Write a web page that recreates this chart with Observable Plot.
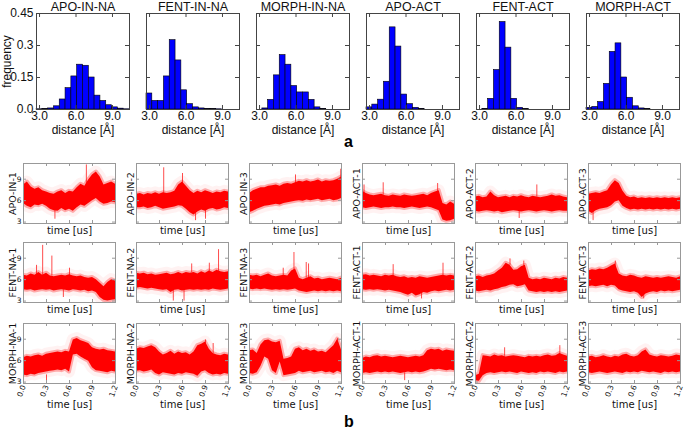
<!DOCTYPE html>
<html><head><meta charset="utf-8">
<script src="https://cdn.jsdelivr.net/npm/d3@7"></script>
<script src="https://cdn.jsdelivr.net/npm/@observablehq/plot@0.6"></script>
<style>
body{margin:0;background:#fff;}
#chart{position:relative;width:685px;height:430px;overflow:hidden;background:#fff;font-family:"Liberation Sans",Arial,sans-serif;}
#chart svg{position:absolute;overflow:visible;}
.tag{position:absolute;font-weight:bold;font-size:16px;line-height:16px;font-family:"Liberation Sans",Arial,sans-serif;}
</style></head><body><div id="chart"></div>
<script>
// ---------- data: histograms (frequency per distance bin) ----------
const histNames = ["APO-IN-NA","FENT-IN-NA","MORPH-IN-NA","APO-ACT","FENT-ACT","MORPH-ACT"];
const binEdges = [2.75,3.228,3.706,4.184,4.662,5.14,5.618,6.096,6.574,7.052,7.53,8.008,8.486,8.964,9.442,9.92,10.4];
const freqApoInNa   = [0.001,0.002,0.005,0.015,0.047,0.10,0.155,0.21,0.205,0.15,0.065,0.04,0.02,0.01,0.004,0.001];
const freqFentInNa  = [0.075,0.04,0.04,0.155,0.325,0.23,0.09,0.025,0.01,0.005,0.003,0.002,0.001,0,0,0];
const freqMorphInNa = [0,0.005,0.045,0.16,0.255,0.21,0.11,0.08,0.08,0.045,0.01,0.003,0,0,0,0];
const freqApoAct    = [0.01,0.023,0.046,0.13,0.385,0.295,0.07,0.025,0.008,0.003,0,0,0,0,0,0];
const freqFentAct   = [0,0.003,0.05,0.185,0.41,0.29,0.05,0.008,0.002,0,0,0,0,0,0,0];
const freqMorphAct  = [0.008,0.012,0.035,0.12,0.27,0.31,0.15,0.055,0.015,0.005,0.002,0,0,0,0,0];
const histFreq = [freqApoInNa,freqFentInNa,freqMorphInNa,freqApoAct,freqFentAct,freqMorphAct];
const histXTicks = [3,6,9];
const histXTickLabels = ["3.0","6.0","9.0"];
const histYTicks = [0,0.15,0.3,0.45];
const histYTickLabels = ["0.0","0.15","0.3","0.45"];

// ---------- data: time series (dense band low/high per time sample, in Å) ----------
const tsNames = ["APO-IN-1","APO-IN-2","APO-IN-3","APO-ACT-1","APO-ACT-2","APO-ACT-3",
                 "FENT-NA-1","FENT-NA-2","FENT-NA-3","FENT-ACT-1","FENT-ACT-2","FENT-ACT-3",
                 "MORPH-NA-1","MORPH-NA-2","MORPH-NA-3","MORPH-ACT-1","MORPH-ACT-2","MORPH-ACT-3"];
const times = [0,0.05,0.1,0.15,0.2,0.25,0.3,0.35,0.4,0.45,0.5,0.55,0.6,0.65,0.7,0.75,0.8,0.85,0.9,0.95,1.0,1.05,1.1,1.15,1.2];
const tsLo = [
 [5.6,5.2,5.0,5.4,5.3,5.5,5.2,4.8,4.6,4.5,4.9,4.6,4.8,4.5,5.0,5.4,5.2,5.6,6.0,6.3,5.8,5.5,5.6,5.8,5.7],
 [5.0,5.0,5.1,4.9,5.0,5.2,5.0,4.8,4.9,5.0,5.1,5.3,5.2,4.8,4.3,4.0,4.4,4.7,4.5,4.8,4.9,4.7,4.8,5.0,4.9],
 [4.3,4.5,4.8,5.0,5.2,5.3,5.4,5.5,5.4,5.6,5.7,5.8,5.9,6.0,5.9,6.1,6.0,6.1,6.2,6.0,6.1,6.2,6.0,6.1,6.3],
 [5.0,4.9,5.0,5.1,5.0,4.9,5.0,5.0,5.1,5.0,5.0,4.9,5.0,5.1,5.0,4.9,5.0,5.1,5.0,4.8,4.6,3.3,3.1,3.2,3.4],
 [4.5,4.4,4.5,4.6,4.5,4.4,4.5,4.3,4.4,4.5,4.6,4.5,4.4,4.5,4.6,4.5,4.4,4.5,4.6,4.5,4.4,4.5,4.6,4.5,4.5],
 [4.5,4.2,4.6,4.8,4.9,5.0,5.3,5.8,6.0,5.2,4.9,4.7,4.8,4.7,4.8,4.7,4.8,4.7,4.8,4.7,4.8,4.7,4.8,4.7,4.8],
 [4.6,4.5,4.6,4.4,4.5,4.6,4.5,4.6,4.4,4.5,4.6,4.5,4.4,4.6,4.5,4.4,4.5,4.3,4.4,4.2,3.5,3.1,3.0,3.1,3.2],
 [4.8,4.9,4.8,4.7,4.8,4.7,4.6,4.5,4.6,4.2,4.5,4.6,4.4,4.5,4.6,4.5,4.6,4.5,4.6,4.5,4.7,4.6,4.5,4.6,4.7],
 [4.7,4.6,4.7,4.6,4.7,4.6,4.5,4.6,4.5,4.6,4.5,4.6,4.7,4.4,4.3,4.2,4.3,4.4,4.3,4.4,4.3,4.4,4.3,4.4,4.3],
 [4.6,4.5,4.6,4.5,4.6,4.5,4.4,4.5,4.4,4.3,4.2,4.0,3.8,4.1,3.7,3.9,4.2,4.1,4.3,4.4,4.3,4.4,4.5,4.4,4.5],
 [4.4,4.3,4.4,4.5,4.4,4.6,4.7,4.9,5.0,5.2,5.3,5.0,5.1,5.3,4.4,4.3,4.2,4.3,4.2,4.3,4.2,4.3,4.2,4.3,4.4],
 [5.0,5.1,5.0,5.1,5.2,5.0,5.2,5.1,4.6,4.4,4.3,4.2,4.3,4.1,3.5,4.0,4.2,4.3,4.2,4.4,4.3,4.4,4.3,4.4,4.5],
 [4.0,3.9,4.1,4.0,4.2,4.3,4.4,4.5,4.6,4.7,4.6,4.8,4.4,6.8,6.9,6.5,6.2,5.9,5.0,4.6,4.5,4.4,4.3,4.5,4.4],
 [4.5,4.6,4.4,4.5,4.7,4.2,4.0,4.3,4.2,4.1,4.0,4.2,4.1,4.3,4.2,4.1,3.8,4.4,4.6,4.2,4.0,4.1,4.0,4.2,4.1],
 [4.2,4.1,4.3,5.2,6.5,6.2,4.6,4.2,5.8,3.9,4.0,4.1,4.2,4.5,4.3,4.4,4.5,4.3,4.4,4.5,4.3,4.4,4.2,4.5,4.3],
 [4.2,4.3,4.2,4.3,4.4,4.3,4.4,4.3,4.4,4.3,4.2,4.3,4.4,4.3,4.4,4.3,4.4,4.6,4.8,4.7,4.8,4.7,4.6,4.7,4.6],
 [3.2,3.1,3.9,4.2,4.3,4.2,4.3,4.4,4.3,4.4,4.3,4.2,4.4,4.3,4.2,4.3,4.2,4.4,4.3,4.4,4.3,4.2,4.4,4.3,4.4],
 [4.3,4.2,4.3,4.4,4.3,4.2,4.3,4.4,4.3,4.2,4.4,4.3,4.4,4.3,4.5,4.4,4.3,4.4,4.3,4.2,4.4,4.3,4.4,4.3,4.4]
];
const tsHi = [
 [8.2,8.6,7.9,7.6,7.8,7.4,7.2,7.0,6.9,7.2,7.4,7.0,7.3,7.2,7.8,8.3,8.0,8.9,9.6,10.0,9.3,8.2,8.4,8.6,8.3],
 [6.9,7.0,6.8,7.0,6.9,7.1,6.9,7.1,7.0,7.1,7.3,8.2,8.6,8.0,7.4,7.0,7.3,7.1,7.4,7.2,7.0,7.2,7.1,7.3,7.2],
 [7.0,7.4,7.6,7.8,7.8,8.0,8.1,8.2,8.0,8.3,8.4,8.3,8.5,8.7,8.6,8.8,8.6,8.7,8.9,8.6,8.8,8.7,8.8,9.0,9.3],
 [7.3,7.0,6.8,6.7,6.8,6.9,6.7,6.6,6.8,6.7,6.6,6.8,6.7,6.6,6.7,6.8,6.9,6.7,7.0,7.2,7.4,5.6,5.4,5.8,5.5],
 [6.5,6.6,6.4,6.5,7.2,6.7,6.4,6.5,6.6,6.4,6.6,6.5,6.7,6.5,6.4,6.6,6.5,6.4,6.5,6.6,6.8,6.6,6.7,6.5,6.4],
 [6.9,7.0,7.1,7.0,7.2,7.4,8.2,8.8,8.4,7.3,6.6,6.4,6.5,6.3,6.4,6.3,6.4,6.3,6.4,6.3,6.4,6.3,6.4,6.3,6.4],
 [6.6,6.5,6.8,6.6,7.0,6.6,6.9,6.5,6.4,6.5,6.6,6.5,6.7,6.5,6.4,6.5,6.3,6.2,6.3,6.0,5.5,5.0,5.6,6.0,5.8],
 [6.9,6.8,6.9,6.7,6.8,6.6,6.7,6.8,6.9,6.7,6.8,7.0,6.8,7.0,6.9,7.0,6.8,7.1,6.9,7.2,7.0,7.3,7.1,7.0,7.1],
 [6.6,6.5,6.6,6.4,6.6,6.8,6.5,6.4,6.5,6.6,6.5,7.2,7.5,6.2,6.0,6.2,6.4,6.1,6.2,6.0,6.1,6.2,6.1,6.0,6.2],
 [6.6,6.7,6.5,6.6,6.5,6.4,6.6,6.5,6.6,6.4,6.3,6.4,6.2,6.3,6.2,6.4,6.3,6.2,6.3,6.4,6.5,6.6,6.5,6.6,6.5],
 [6.4,6.5,6.3,6.5,6.6,6.8,7.2,7.6,8.3,8.0,7.3,7.4,7.8,8.0,6.2,6.0,6.1,6.0,6.2,6.1,6.0,6.2,6.1,6.3,6.2],
 [7.2,7.4,7.3,7.5,7.4,7.6,7.9,8.2,6.8,6.5,6.4,6.6,6.5,6.3,6.2,6.4,6.3,6.2,6.3,6.2,6.3,6.4,6.3,6.2,6.4],
 [6.4,6.6,6.5,6.7,6.8,6.6,6.9,7.0,7.1,7.2,7.1,7.3,7.2,8.9,9.1,8.8,8.6,8.4,7.8,7.6,7.5,7.6,7.4,7.3,7.2],
 [7.6,7.8,7.7,7.9,8.1,7.8,7.2,6.8,7.0,7.3,6.9,7.2,7.0,7.1,6.8,7.2,8.1,8.3,8.6,7.6,7.0,6.8,6.7,6.9,6.8],
 [7.4,7.5,7.0,8.2,8.8,8.9,8.6,8.5,8.7,6.2,6.3,6.5,7.6,7.8,7.4,7.6,7.3,7.5,7.2,7.3,7.1,7.6,8.1,9.0,7.5],
 [6.3,6.5,6.4,6.6,6.7,6.5,6.6,6.5,6.4,6.5,6.6,6.5,6.4,6.5,6.6,6.5,6.7,7.4,7.6,7.5,7.6,7.3,7.5,7.4,7.3],
 [3.9,4.1,6.7,6.6,6.5,6.8,6.6,6.7,6.5,6.6,6.7,6.6,6.5,6.4,6.6,6.5,6.6,6.5,6.7,6.8,6.6,6.7,7.0,6.8,6.6],
 [6.5,6.6,6.4,6.5,6.7,6.5,6.4,6.6,6.5,6.8,6.9,6.6,6.5,6.7,7.2,7.5,6.8,6.6,6.5,6.7,6.6,6.5,6.6,6.8,6.7]
];
// isolated excursions: [panel name, time, low, high]
const spikes = [
 ["APO-IN-1",0.82,8.0,11.0],["APO-IN-1",0.41,3.4,5.0],
 ["APO-IN-2",0.355,7.0,10.6],["APO-IN-2",0.6,7.5,9.8],["APO-IN-2",0.77,3.2,5.0],["APO-IN-2",0.9,3.4,5.0],
 ["APO-IN-3",1.19,8.5,10.4],["APO-IN-3",0.6,8.0,9.6],
 ["APO-ACT-1",0.27,6.8,8.5],["APO-ACT-1",0.98,7.0,8.4],["APO-ACT-1",0.02,6.5,8.2],
 ["APO-ACT-2",0.8,6.5,8.2],["APO-ACT-2",0.57,3.5,4.6],
 ["APO-ACT-3",0.06,3.2,4.6],
 ["FENT-NA-1",0.25,6.5,10.8],["FENT-NA-1",0.37,6.5,9.3],["FENT-NA-1",0.17,6.5,8.0],["FENT-NA-1",0.6,6.5,7.6],["FENT-NA-1",0.52,3.5,4.6],
 ["FENT-NA-2",0.48,3.0,4.6],["FENT-NA-2",0.62,3.0,4.6],["FENT-NA-2",1.07,7.0,10.2],["FENT-NA-2",0.72,7.0,8.2],["FENT-NA-2",0.95,7.0,8.3],
 ["FENT-NA-3",0.58,6.5,9.8],["FENT-NA-3",0.74,6.2,8.4],["FENT-NA-3",0.77,6.2,8.2],["FENT-NA-3",0.44,6.5,7.6],
 ["FENT-ACT-1",0.4,6.5,8.1],["FENT-ACT-1",1.05,6.5,8.3],["FENT-ACT-1",0.77,3.3,4.2],
 ["FENT-ACT-2",0.45,8.0,8.9],["FENT-ACT-2",0.63,7.8,8.6],
 ["FENT-ACT-3",0.35,7.5,8.6],["FENT-ACT-3",0.72,3.3,4.4],
 ["MORPH-NA-1",0.3,3.2,4.0],
 ["MORPH-NA-2",0.9,8.0,8.9],["MORPH-NA-2",1.0,7.0,8.4],
 ["MORPH-NA-3",1.15,7.5,9.1],
 ["MORPH-ACT-1",0.55,3.2,4.3],
 ["MORPH-ACT-2",1.1,6.6,8.1],["MORPH-ACT-2",0.38,6.6,7.8],
 ["MORPH-ACT-3",0.73,6.9,7.3]
];
const tsXTicks = [0,0.3,0.6,0.9,1.2];
const tsXTickLabels = ["0.0","0.3","0.6","0.9","1.2"];
const tsYTicks = [3,6,9];

// ---------- layout ----------
const chart = document.getElementById("chart");
const histLefts = [36,146,256,366,476,586], histTop = 13, histW = 93, histH = 96;
const tsLefts = [23,136,249,362,475,588], tsTops = [163,242,323], tsW = 92, tsH = 60;

function place(svg, left, top){ svg.style.left = left+"px"; svg.style.top = top+"px"; chart.appendChild(svg); }

function histPanel(i){
  const ml = i === 0 ? 36 : 6, mr = 4, mt = 13, mb = 30;
  const rows = histFreq[i].map((f,k)=>({x1: binEdges[k], x2: binEdges[k+1], f})).filter(d=>d.f>0);
  const fr = "#444";
  const marks = [
    Plot.rect(rows, {x1:"x1", x2:"x2", y1: 0, y2:"f", fill:"#0000ff", stroke:"#000", strokeWidth:0.6}),
    Plot.tickX(histXTicks, {x: d=>d, insetTop: histH-4, stroke: fr}),
    Plot.tickX(histXTicks, {x: d=>d, insetBottom: histH-4, stroke: fr}),
    Plot.tickY(histYTicks, {y: d=>d, insetRight: histW-4, stroke: fr}),
    Plot.tickY(histYTicks, {y: d=>d, insetLeft: histW-4, stroke: fr}),
    Plot.frame({stroke: fr}),
    Plot.axisX(histXTicks, {tickFormat: (d,j)=>histXTickLabels[j], tickSize: 0, tickPadding: 2, fontSize: 12, label: null}),
    Plot.text([histNames[i]], {text: d=>d, frameAnchor: "top", dy: -2.5, lineAnchor: "bottom", fontSize: 12.5}),
    Plot.text(["distance [Å]"], {text: d=>d, frameAnchor: "bottom", dy: 16, lineAnchor: "top", fontSize: 12})
  ];
  if (i === 0) {
    marks.push(Plot.axisY(histYTicks, {tickFormat: (d,j)=>histYTickLabels[j], tickSize: 0, tickPadding: 3, fontSize: 12, label: null}));
    marks.push(Plot.text(["frequency"], {text: d=>d, frameAnchor: "left", rotate: -90, dx: -26, textAnchor: "middle", lineAnchor: "bottom", fontSize: 12}));
  }
  const svg = Plot.plot({
    width: ml+histW+mr, height: mt+histH+mb,
    marginLeft: ml, marginRight: mr, marginTop: mt, marginBottom: mb,
    style: {background: "transparent", overflow: "visible", fontFamily: "Liberation Sans, Arial, sans-serif", fontSize: "12px", color: "#111"},
    x: {domain: [binEdges[0], binEdges[binEdges.length-1]], axis: null},
    y: {domain: [0, 0.45], axis: null},
    marks
  });
  place(svg, histLefts[i]-ml, histTop-mt);
}

function tsPanel(r, c){
  const p = r*6 + c, name = tsNames[p];
  const ml = c === 0 ? 24 : 10, mr = 3, mt = 2, mb = r === 2 ? 30 : 14;
  const rows = times.map((t,k)=>({t, lo: tsLo[p][k], hi: tsHi[p][k]}));
  const spk = spikes.filter(s=>s[0]===name).map(s=>({t: s[1], y1: s[2], y2: s[3]}));
  const fr = "#999", red = "#ff0000", ff = "DejaVu Sans, sans-serif";
  const marks = [
    Plot.areaY(rows, {x:"t", y1:"lo", y2:"hi", fill:"none", stroke: red, strokeOpacity: 0.05, strokeWidth: 12, strokeLinejoin: "round", clip: true}),
    Plot.areaY(rows, {x:"t", y1:"lo", y2:"hi", fill: red, stroke: red, strokeOpacity: 0.3, strokeWidth: 4, strokeLinejoin: "round", clip: true}),
    Plot.ruleX(spk, {x:"t", y1:"y1", y2:"y2", stroke: red, strokeWidth: 1, strokeOpacity: 0.7, clip: true}),
    Plot.tickX(tsXTicks, {x: d=>d, insetTop: tsH-3, stroke: fr}),
    Plot.tickX(tsXTicks, {x: d=>d, insetBottom: tsH-3, stroke: fr}),
    Plot.tickY(tsYTicks, {y: d=>d, insetRight: tsW-3, stroke: fr}),
    Plot.tickY(tsYTicks, {y: d=>d, insetLeft: tsW-3, stroke: fr}),
    Plot.frame({stroke: fr}),
    Plot.text([name], {text: d=>d, frameAnchor: "left", rotate: -90, dx: c === 0 ? -8 : -3, textAnchor: "middle", lineAnchor: "bottom", fontSize: 9.5, fontFamily: ff}),
    Plot.text(["time [us]"], {text: d=>d, frameAnchor: "bottom", dy: r === 2 ? 17 : 3, lineAnchor: "top", fontSize: 10, fontFamily: ff})
  ];
  if (c === 0) marks.push(Plot.axisY(tsYTicks, {tickSize: 0, tickPadding: 2, fontSize: 7.5, fontFamily: ff, label: null}));
  if (r === 2) marks.push(Plot.axisX(tsXTicks, {tickFormat: (d,j)=>tsXTickLabels[j], tickRotate: -70, tickSize: 0, tickPadding: 2, fontSize: 7.5, fontFamily: ff, label: null}));
  const svg = Plot.plot({
    width: ml+tsW+mr, height: mt+tsH+mb,
    marginLeft: ml, marginRight: mr, marginTop: mt, marginBottom: mb,
    style: {background: "transparent", overflow: "visible", fontFamily: ff, fontSize: "10px", color: "#111"},
    x: {domain: [0, 1.2], axis: null},
    y: {domain: [2.8, 11.2], axis: null},
    marks
  });
  place(svg, tsLefts[c]-ml, tsTops[r]-mt);
}

for (let i = 0; i < 6; i++) histPanel(i);
for (let r = 0; r < 3; r++) for (let c = 0; c < 6; c++) tsPanel(r, c);

function tag(txt, x, y){ const d = document.createElement("div"); d.className = "tag"; d.textContent = txt; d.style.left = x+"px"; d.style.top = y+"px"; chart.appendChild(d); }
tag("a", 344, 134);
tag("b", 344, 414);
</script></body></html>
